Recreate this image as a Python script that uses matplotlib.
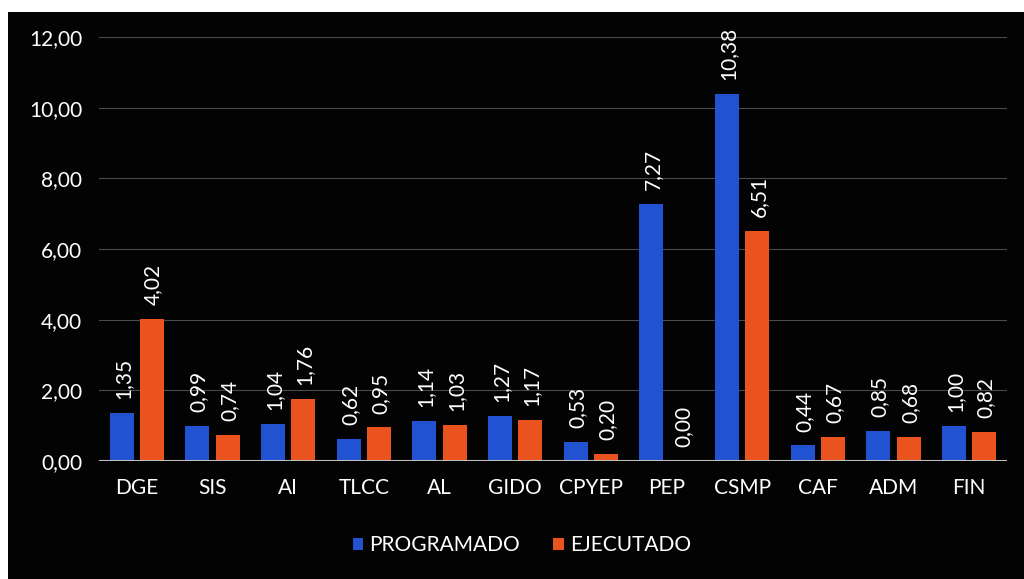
import numpy as np
import matplotlib.pyplot as plt
from matplotlib.patches import Rectangle

# Values
categories = ['DGE', 'SIS', 'AI', 'TLCC', 'AL', 'GIDO', 'CPYEP', 'PEP', 'CSMP', 'CAF', 'ADM', 'FIN']
programado = [1.35, 0.99, 1.04, 0.62, 1.14, 1.27, 0.53, 7.27, 10.38, 0.44, 0.85, 1.00]
ejecutado = [4.02, 0.74, 1.76, 0.95, 1.03, 1.17, 0.20, 0.00, 6.51, 0.67, 0.68, 0.82]
series_names = ['PROGRAMADO', 'EJECUTADO']
yticks = [0, 2, 4, 6, 8, 10, 12]

plt.rcParams['font.family'] = ['Lato', 'DejaVu Sans']

fig = plt.figure(figsize=(10.24, 5.79), dpi=100, facecolor='white')
# black chart area (scan leaves a white edge on the left and top)
fig.patches.append(Rectangle((8 / 1024, 0), 1, 1 - 12 / 579, transform=fig.transFigure,
                             facecolor='#030303', edgecolor='none', zorder=-10))

ax = fig.add_axes([99 / 1024, 1 - 461 / 579, 908 / 1024, 424 / 579])
ax.set_facecolor('none')
ax.set_zorder(1)

x = np.arange(len(categories))
w = 0.32
off = 0.2
blue = '#2152d2'
orange = '#ea531d'
b1 = ax.bar(x - off, programado, w, color=blue, label=series_names[0], zorder=2)
b2 = ax.bar(x + off, ejecutado, w, color=orange, label=series_names[1], zorder=2)

def fmt(v):
    return f'{v:.2f}'.replace('.', ',')

for bars, vals in [(b1, programado), (b2, ejecutado)]:
    for rect, v in zip(bars, vals):
        ax.annotate(fmt(v), (rect.get_x() + rect.get_width() / 2, v),
                    xytext=(1, 10), textcoords='offset points', rotation=90,
                    ha='center', va='bottom', color='white', fontsize=15)

ax.set_xlim(-0.5, len(categories) - 0.5)
ax.set_ylim(0, 12)
ax.set_yticks(yticks)
ax.set_yticklabels([fmt(t) for t in yticks])
ax.set_xticks(x)
ax.set_xticklabels(categories)
ax.tick_params(axis='both', length=0, colors='white', labelsize=15)
ax.tick_params(axis='y', pad=12)
ax.tick_params(axis='x', pad=12)
for t in ax.get_yticklabels() + ax.get_xticklabels():
    t.set_color('white')

ax.grid(axis='y', color='#4a4a4a', linewidth=0.8, zorder=0)
ax.axhline(0, color='#bdbdbd', linewidth=1.5, zorder=3)
for s in ax.spines.values():
    s.set_visible(False)

leg = fig.legend(loc='center', bbox_to_anchor=(522 / 1024, 1 - 545 / 579), ncol=2,
                 frameon=False, fontsize=15, handlelength=0.5, handleheight=0.5,
                 handletextpad=0.3, columnspacing=1.6)
for t in leg.get_texts():
    t.set_color('white')

fig.savefig('out.png', dpi=100, facecolor=fig.get_facecolor())
